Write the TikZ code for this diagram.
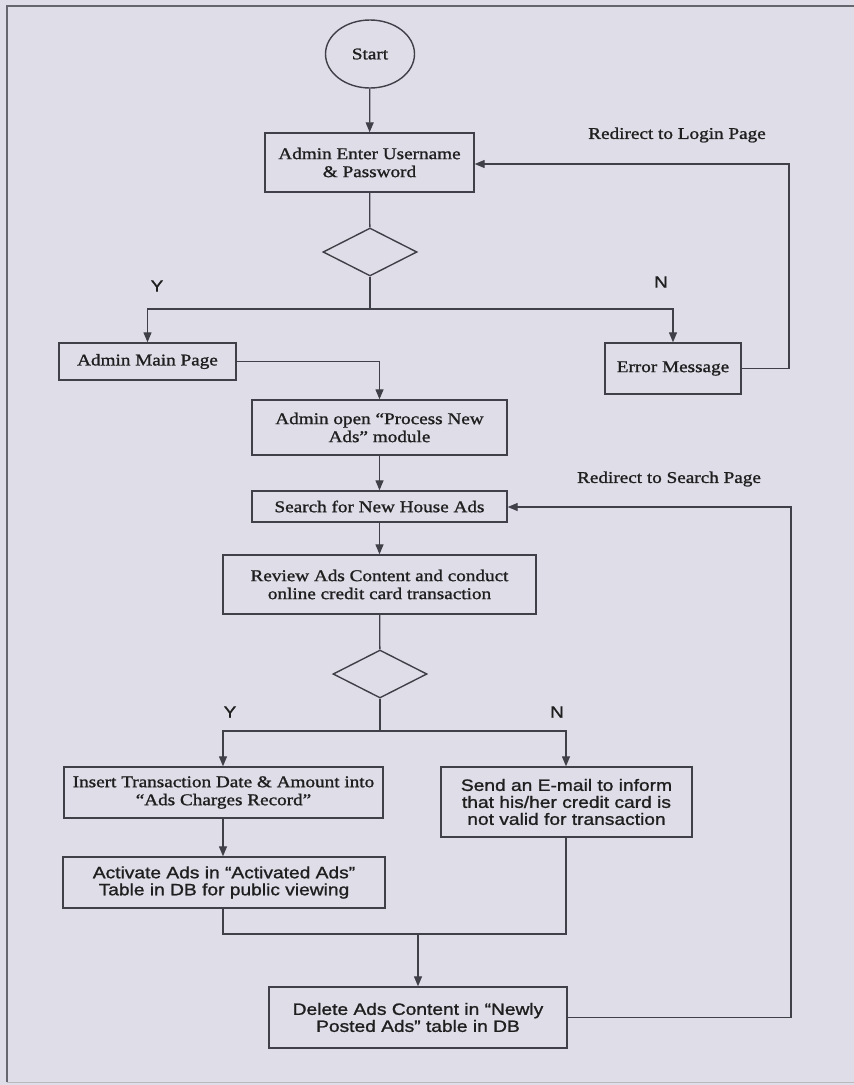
\documentclass[tikz,border=0pt]{standalone}
\usepackage{fontspec}
\setmainfont[FakeStretch=1.17,FakeBold=1.2]{Liberation Serif}
\setsansfont[FakeStretch=1.17,FakeBold=1.2]{Liberation Sans}
\usetikzlibrary{shapes.geometric,arrows.meta,calc}
\definecolor{paper}{HTML}{DEDDE8}
\definecolor{ink}{HTML}{404048}
\definecolor{frameink}{HTML}{66666F}
\begin{document}
\begin{tikzpicture}[x=1pt,y=-1pt,
  every node/.style={font=\fontsize{16.4}{18}\selectfont, text=black!88},
  stepbox/.style={draw=ink, line width=1.4pt, rectangle, inner sep=0pt, align=center},
  decision/.style={draw=ink, line width=1.4pt, diamond, aspect=2, inner sep=0pt,
    minimum width=94pt, minimum height=48pt},
  sanstext/.style={font=\sffamily\fontsize{16.4}{17}\selectfont},
  flow/.style={draw=ink, line width=1.3pt},
  arrow/.style={flow, -{Triangle[length=10pt,width=8pt]}},
  lbl/.style={inner sep=0pt}]
% page and its frame
\fill[paper] (0,0) rectangle (854,1085);
\useasboundingbox (0,0) rectangle (854,1085);
\draw[frameink, line width=1.4pt] (854,6) -- (7,6) -- (7,1082);
\draw[frameink!45, line width=0.8pt] (7,1082) -- (854,1082);

% nodes
\node[stepbox, ellipse, minimum width=89pt, minimum height=68pt] (start) at (370,54) {Start};
\node[stepbox, minimum width=209pt, minimum height=59pt] (login) at (369.5,162.5) {Admin Enter Username\\\& Password};
\node[decision] (d1) at (370,252) {};
\node[stepbox, minimum width=177pt, minimum height=37pt] (main) at (147.5,361.5) {Admin Main Page};
\node[stepbox, minimum width=136pt, minimum height=51pt] (err) at (673,368.5) {Error Message};
\node[stepbox, minimum width=255pt, minimum height=55pt] (open) at (379.5,427.5) {Admin open “Process New\\Ads” module};
\node[stepbox, minimum width=255pt, minimum height=31pt] (search) at (379.5,506.5) {Search for New House Ads};
\node[stepbox, minimum width=313pt, minimum height=59pt] (review) at (379.5,584.5) {Review Ads Content and conduct\\online credit card transaction};
\node[decision] (d2) at (380,674) {};
\node[stepbox, minimum width=319pt, minimum height=51pt] (insert) at (223.5,792.5) {Insert Transaction Date \& Amount into\\“Ads Charges Record”};
\node[stepbox, sanstext, minimum width=251pt, minimum height=70pt] (email) at (566.5,802) {Send an E-mail to inform\\that his/her credit card is\\not valid for transaction};
\node[stepbox, sanstext, minimum width=322pt, minimum height=51pt] (activate) at (224,882.5) {Activate Ads in “Activated Ads”\\Table in DB for public viewing};
\node[stepbox, sanstext, minimum width=298pt, minimum height=61pt] (delete) at (418,1017.5) {Delete Ads Content in “Newly\\Posted Ads” table in DB};

% labels
\node[lbl] (loginlbl) at (677,135) {Redirect to Login Page};
\node[lbl] (searchlbl) at (669,479) {Redirect to Search Page};
\node[lbl, sanstext] (y1) at (157,286) {Y};
\node[lbl, sanstext] (n1) at (661,282) {N};
\node[lbl, sanstext] (y2) at (230,712) {Y};
\node[lbl, sanstext] (n2) at (557,712) {N};

% junction points
\coordinate (j1) at (370,309);
\coordinate (j2) at (380,731);
\coordinate (loopA) at (789,164);
\coordinate (loopB) at (791,507);
\coordinate (m1) at (223,934);
\coordinate (m2) at (566,934);
\coordinate (m3) at (418,934);

% connectors
\draw[arrow] (start) -- (login);
\draw[flow] (login) -- (d1);
\draw[flow] (d1.south) -- (j1);
\draw[arrow] (j1) -| (main.north);
\draw[arrow] (j1) -| (err.north);
\draw[arrow] (err.east) -| (loopA) -- (login.east |- loopA);
\draw[arrow] (main.east) -| (open.north);
\draw[arrow] (open) -- (search);
\draw[arrow] (search) -- (review);
\draw[flow] (review) -- (d2);
\draw[flow] (d2.south) -- (j2);
\draw[arrow] (j2) -| (insert.north -| m1);
\draw[arrow] (j2) -| (email.north -| m2);
\draw[arrow] (insert.south -| m1) -- (activate.north -| m1);
\draw[flow] (activate.south -| m1) -- (m1) -- (m2) -- (email.south -| m2);
\draw[arrow] (m3) -- (delete.north);
\draw[arrow] (delete.east) -| (loopB) -- (search.east |- loopB);
\end{tikzpicture}
\end{document}
